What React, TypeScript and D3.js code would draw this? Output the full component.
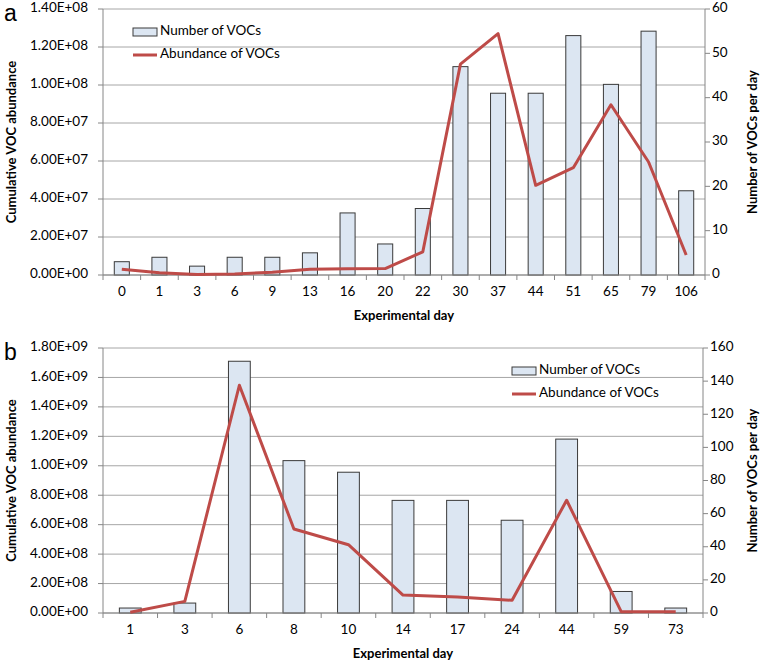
import * as d3 from 'd3';

// panel a
const daysA = ['0', '1', '3', '6', '9', '13', '16', '20', '22', '30', '37', '44', '51', '65', '79', '106'];
const countsA = [3, 4, 2, 4, 4, 5, 14, 7, 15, 47, 41, 41, 54, 43, 55, 19];
const abundA = [3.0e6, 1.2e6, 0.3e6, 0.5e6, 1.5e6, 3.0e6, 3.3e6, 3.4e6, 12.2e6, 111e6, 127e6, 47.2e6, 56.5e6, 89.6e6, 59.5e6, 10.5e6];

// panel b
const daysB = ['1', '3', '6', '8', '10', '14', '17', '24', '44', '59', '73'];
const countsB = [3, 6, 152, 92, 85, 68, 68, 56, 105, 13, 3];
const abundB = [0.5e7, 7.9e7, 1.547e9, 5.71e8, 4.64e8, 1.22e8, 1.09e8, 8.6e7, 7.66e8, 0.9e7, 0.9e7];

const LINE = '#be4b48';
const BAR_FILL = '#dce6f2';
const GRID = '#a6a6a6';
const AXIS = '#868686';
const FONT = 'Lato, "Open Sans", sans-serif';

const sci = (v: number) => {
  if (v === 0) return '0.00E+00';
  const e = Math.floor(Math.log10(v) + 1e-9);
  const m = v / Math.pow(10, e);
  return `${m.toFixed(2)}E+${String(e).padStart(2, '0')}`;
};

function Panel({ label, days, counts, abund, leftMax, leftStep, rightMax, rightStep, top, bottom, right, legendX, legendY }: any) {
  const left = 103;
  const x = d3.scaleBand().domain(days).range([left, right]).padding(0);
  const yL = d3.scaleLinear().domain([0, leftMax]).range([bottom, top]);
  const yR = d3.scaleLinear().domain([0, rightMax]).range([bottom, top]);
  const leftTicks = d3.range(0, leftMax + leftStep / 2, leftStep);
  const rightTicks = d3.range(0, rightMax + rightStep / 2, rightStep);
  const bw = x.bandwidth() * 0.4;
  const cx = (d: string) => (x(d) as number) + x.bandwidth() / 2;

  const line = d3.line<number>()
    .x((_, i) => cx(days[i]))
    .y((v) => yL(v));

  return (
    <g fontFamily={FONT}>
      {/* Panel label */}
      <text x={4} y={top + 12} fontSize={23} fontFamily="Arial, sans-serif" fill="#000">{label}</text>

      {/* Grid */}
      {leftTicks.map((t, i) => (
        <line key={`g-${i}`} x1={left} x2={right} y1={yL(t)} y2={yL(t)} stroke={GRID} strokeWidth={1} />
      ))}

      {/* Bars */}
      {counts.map((c: number, i: number) => (
        <rect
          key={`b-${i}`}
          x={cx(days[i]) - bw / 2}
          y={yR(c)}
          width={bw}
          height={bottom - yR(c)}
          fill={BAR_FILL}
          stroke="#3a3a3a"
          strokeWidth={1}
        />
      ))}

      {/* Axes */}
      <line x1={left} x2={left} y1={top} y2={bottom} stroke={AXIS} />
      <line x1={right} x2={right} y1={top} y2={bottom} stroke={AXIS} />
      <line x1={left} x2={right} y1={bottom} y2={bottom} stroke={AXIS} />
      {days.map((d: string, i: number) => (
        <line key={`xt-${i}`} x1={x(d) as number} x2={x(d) as number} y1={bottom} y2={bottom + 5} stroke={AXIS} />
      ))}
      <line x1={right} x2={right} y1={bottom} y2={bottom + 5} stroke={AXIS} />

      {/* Abundance line */}
      <path d={line(abund) || ''} fill="none" stroke={LINE} strokeWidth={3} strokeLinejoin="round" />

      {/* Left ticks */}
      {leftTicks.map((t, i) => (
        <g key={`lt-${i}`}>
          <line x1={left - 5} x2={left} y1={yL(t)} y2={yL(t)} stroke={AXIS} />
          <text x={left - 15} y={yL(t)} textAnchor="end" dominantBaseline="middle" fontSize={13.5} fill="#000">{sci(t)}</text>
        </g>
      ))}

      {/* Right ticks */}
      {rightTicks.map((t, i) => (
        <g key={`rt-${i}`}>
          <line x1={right} x2={right + 5} y1={yR(t)} y2={yR(t)} stroke={AXIS} />
          <text x={right + 7} y={yR(t)} dominantBaseline="middle" fontSize={13.5} fill="#000">{t}</text>
        </g>
      ))}

      {/* X labels */}
      {days.map((d: string, i: number) => (
        <text key={`xl-${i}`} x={cx(d)} y={bottom + 18} textAnchor="middle" dominantBaseline="middle" fontSize={13.5} fill="#000">{d}</text>
      ))}
      <text x={(left + right) / 2} y={bottom + 42} textAnchor="middle" dominantBaseline="middle" fontSize={13} fontWeight="bold" fill="#000">Experimental day</text>

      {/* Axis titles */}
      <text transform={`translate(13,${(top + bottom) / 2}) rotate(-90)`} textAnchor="middle" dominantBaseline="middle" fontSize={13} fontWeight="bold" fill="#000">Cumulative VOC abundance</text>
      <text transform={`translate(754,${(top + bottom) / 2}) rotate(-90)`} textAnchor="middle" dominantBaseline="middle" fontSize={13} fontWeight="bold" fill="#000">Number of VOCs per day</text>

      {/* Legend */}
      <g transform={`translate(${legendX},${legendY})`}>
        <rect x={0} y={-4} width={24} height={8} fill={BAR_FILL} stroke="#3a3a3a" />
        <text x={27} y={0} dominantBaseline="middle" fontSize={13.5} fill="#000">Number of VOCs</text>
        <line x1={0} x2={24} y1={23} y2={23} stroke={LINE} strokeWidth={3} />
        <text x={27} y={23} dominantBaseline="middle" fontSize={13.5} fill="#000">Abundance of VOCs</text>
      </g>
    </g>
  );
}

export default function App() {
  return (
    <svg width={764} height={665} style={{ position: 'absolute', left: 0, top: 0, background: '#fff' }}>
      <rect width={764} height={665} fill="#fff" />
      <Panel
        label="a"
        days={daysA}
        counts={countsA}
        abund={abundA}
        leftMax={1.4e8}
        leftStep={2e7}
        rightMax={60}
        rightStep={10}
        top={9}
        bottom={275}
        right={705}
        legendX={133}
        legendY={32}
      />
      <Panel
        label="b"
        days={daysB}
        counts={countsB}
        abund={abundB}
        leftMax={1.8e9}
        leftStep={2e8}
        rightMax={160}
        rightStep={20}
        top={348}
        bottom={613}
        right={703}
        legendX={512}
        legendY={371}
      />
    </svg>
  );
}
